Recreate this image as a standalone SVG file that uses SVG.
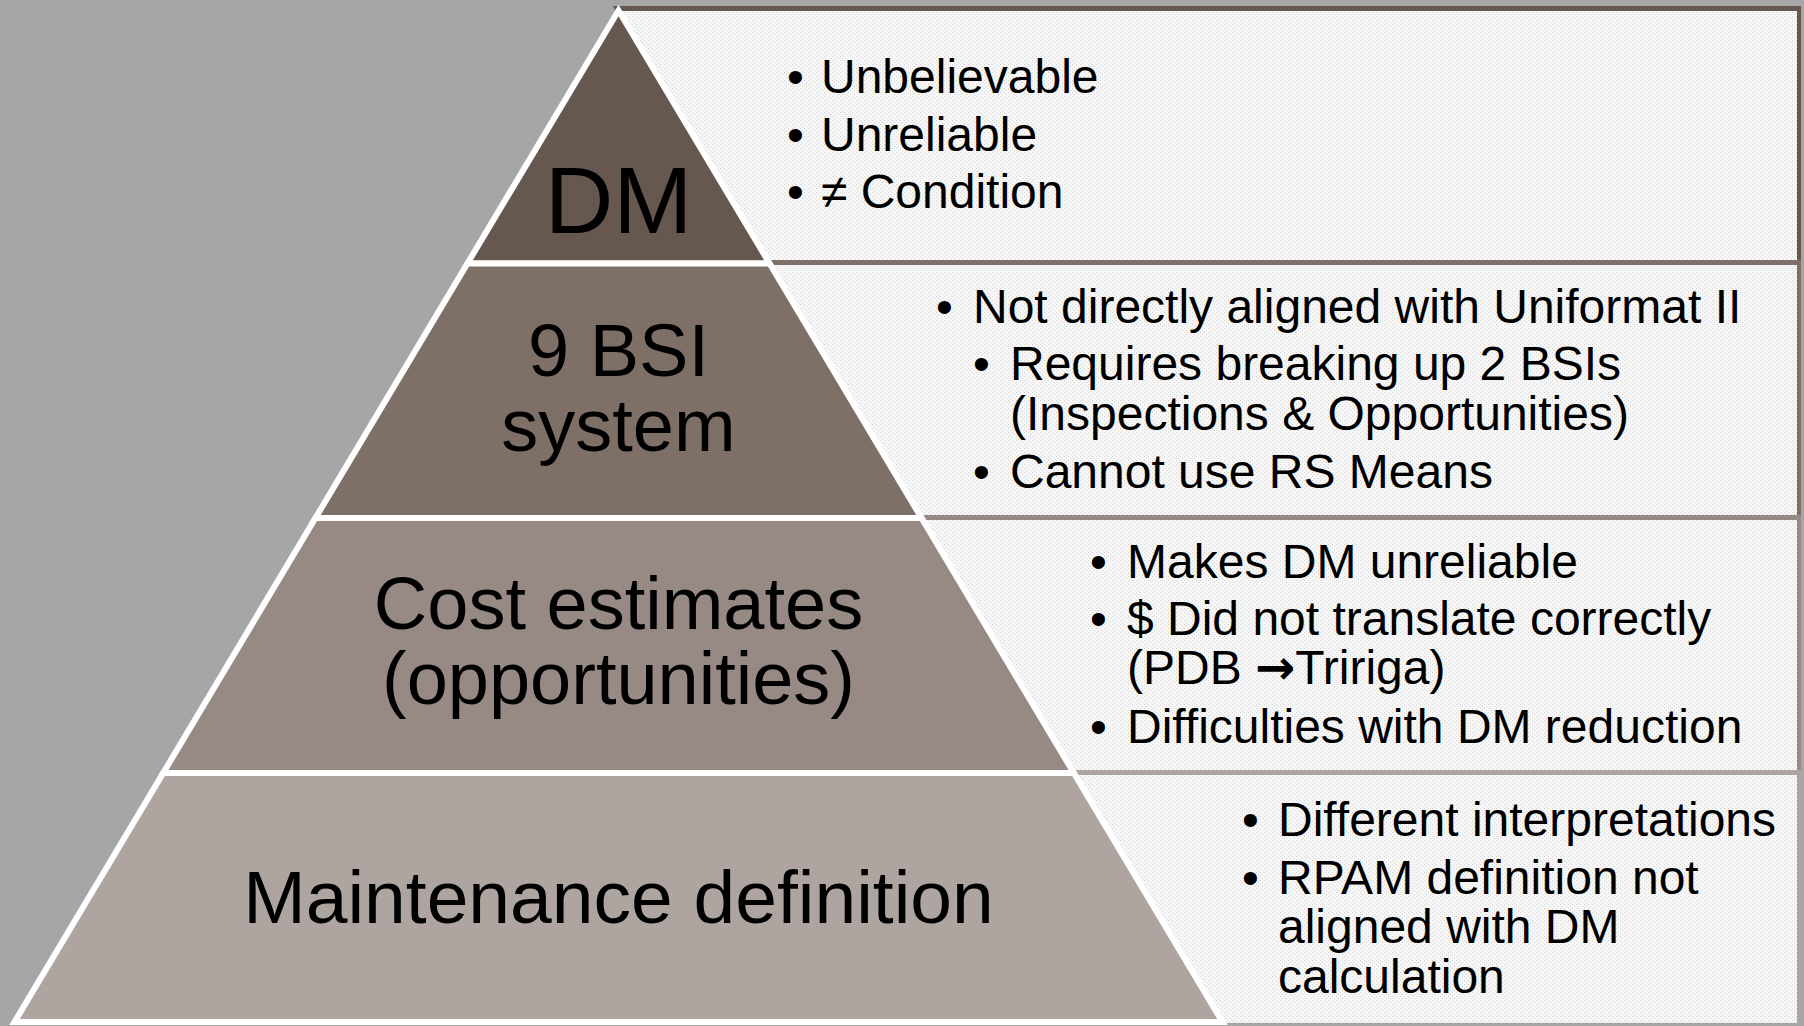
<svg xmlns="http://www.w3.org/2000/svg" width="1804" height="1026" viewBox="0 0 1804 1026">
<defs>
<pattern id="dots" width="4" height="4" patternUnits="userSpaceOnUse">
<rect width="4" height="4" fill="#f7f7f7"/>
<rect x="0" y="0" width="1" height="1" fill="#d2d2d2"/>
<rect x="2" y="2" width="1" height="1" fill="#d2d2d2"/>
</pattern>
<style>
.lvl{stroke:#ffffff;stroke-width:6;stroke-linejoin:miter;stroke-miterlimit:10}
.inner{fill:url(#dots)}
.lab{font-family:"Liberation Sans",Arial,sans-serif;fill:#000;text-anchor:middle}
.txt{font-family:"Liberation Sans",Arial,sans-serif;font-size:48px;fill:#000}
.arr{font-family:"DejaVu Sans",sans-serif;font-weight:bold}
</style>
</defs>
<rect x="0" y="0" width="1804" height="1026" fill="#a6a6a6"/>

<g id="box-dm">
<polygon points="612.8,6 1801,6 1801,260 764.5,260" fill="#66574f"/>
<polygon class="inner" points="615.8,11 1797,11 1797,260 764.5,260"/>
<text class="txt" x="787" y="93">•</text><text class="txt" x="821" y="93">Unbelievable</text>
<text class="txt" x="787" y="151">•</text><text class="txt" x="821" y="151">Unreliable</text>
<text class="txt" x="787" y="208">•</text><text class="txt" x="821" y="208">≠ Condition</text>
</g>

<g id="box-bsi">
<polygon points="764.5,260 1801,260 1801,515 916.8,515" fill="#7f7067"/>
<polygon class="inner" points="767.5,265 1797,265 1797,515 916.8,515"/>
<text class="txt" x="936" y="323">•</text><text class="txt" x="973" y="323">Not directly aligned with Uniformat II</text>
<text class="txt" x="973" y="380">•</text><text class="txt" x="1010" y="380">Requires breaking up 2 BSIs</text>
<text class="txt" x="1010" y="430">(Inspections &amp; Opportunities)</text>
<text class="txt" x="973" y="488">•</text><text class="txt" x="1010" y="488">Cannot use RS Means</text>
</g>

<g id="box-cost">
<polygon points="916.8,515 1801,515 1801,770 1069,770" fill="#978a85"/>
<polygon class="inner" points="919.8,520 1797,520 1797,770 1069,770"/>
<text class="txt" x="1090" y="578">•</text><text class="txt" x="1127" y="578">Makes DM unreliable</text>
<text class="txt" x="1090" y="635">•</text><text class="txt" x="1127" y="635">$ Did not translate correctly</text>
<text class="txt" x="1127" y="684">(PDB <tspan class="arr">→</tspan>Tririga)</text>
<text class="txt" x="1090" y="743">•</text><text class="txt" x="1127" y="743">Difficulties with DM reduction</text>
</g>

<g id="box-maint">
<polygon points="1069,770 1801,770 1801,1023 1220,1023" fill="#aea5a1"/>
<polygon class="inner" points="1072,775 1797,775 1797,1023 1220,1023"/>
<text class="txt" x="1242" y="836">•</text><text class="txt" x="1278" y="836">Different interpretations</text>
<text class="txt" x="1242" y="894">•</text><text class="txt" x="1278" y="894">RPAM definition not</text>
<text class="txt" x="1278" y="943">aligned with DM</text>
<text class="txt" x="1278" y="993">calculation</text>
</g>

<g id="level-dm">
<polygon class="lvl" points="618.5,10.5 769.57,263.5 467.43,263.5" fill="#66574f"/>
<text class="lab" x="618.5" y="233" font-size="95">DM</text>
</g>
<g id="level-bsi">
<polygon class="lvl" points="467.43,263.5 769.57,263.5 921.54,518 315.46,518" fill="#7f7067"/>
<text class="lab" x="618.5" y="376" font-size="74">9 BSI</text>
<text class="lab" x="618.5" y="451" font-size="74">system</text>
</g>
<g id="level-cost">
<polygon class="lvl" points="315.46,518 921.54,518 1073.81,773 163.19,773" fill="#978a85"/>
<text class="lab" x="618.5" y="629" font-size="74">Cost estimates</text>
<text class="lab" x="618.5" y="704" font-size="74">(opportunities)</text>
</g>
<g id="level-maint">
<polygon class="lvl" points="163.19,773 1073.81,773 1222.5,1022 14.5,1022" fill="#aea5a1"/>
<text class="lab" x="618.5" y="923" font-size="75">Maintenance definition</text>
</g>
<g id="connectors"/>
</svg>
